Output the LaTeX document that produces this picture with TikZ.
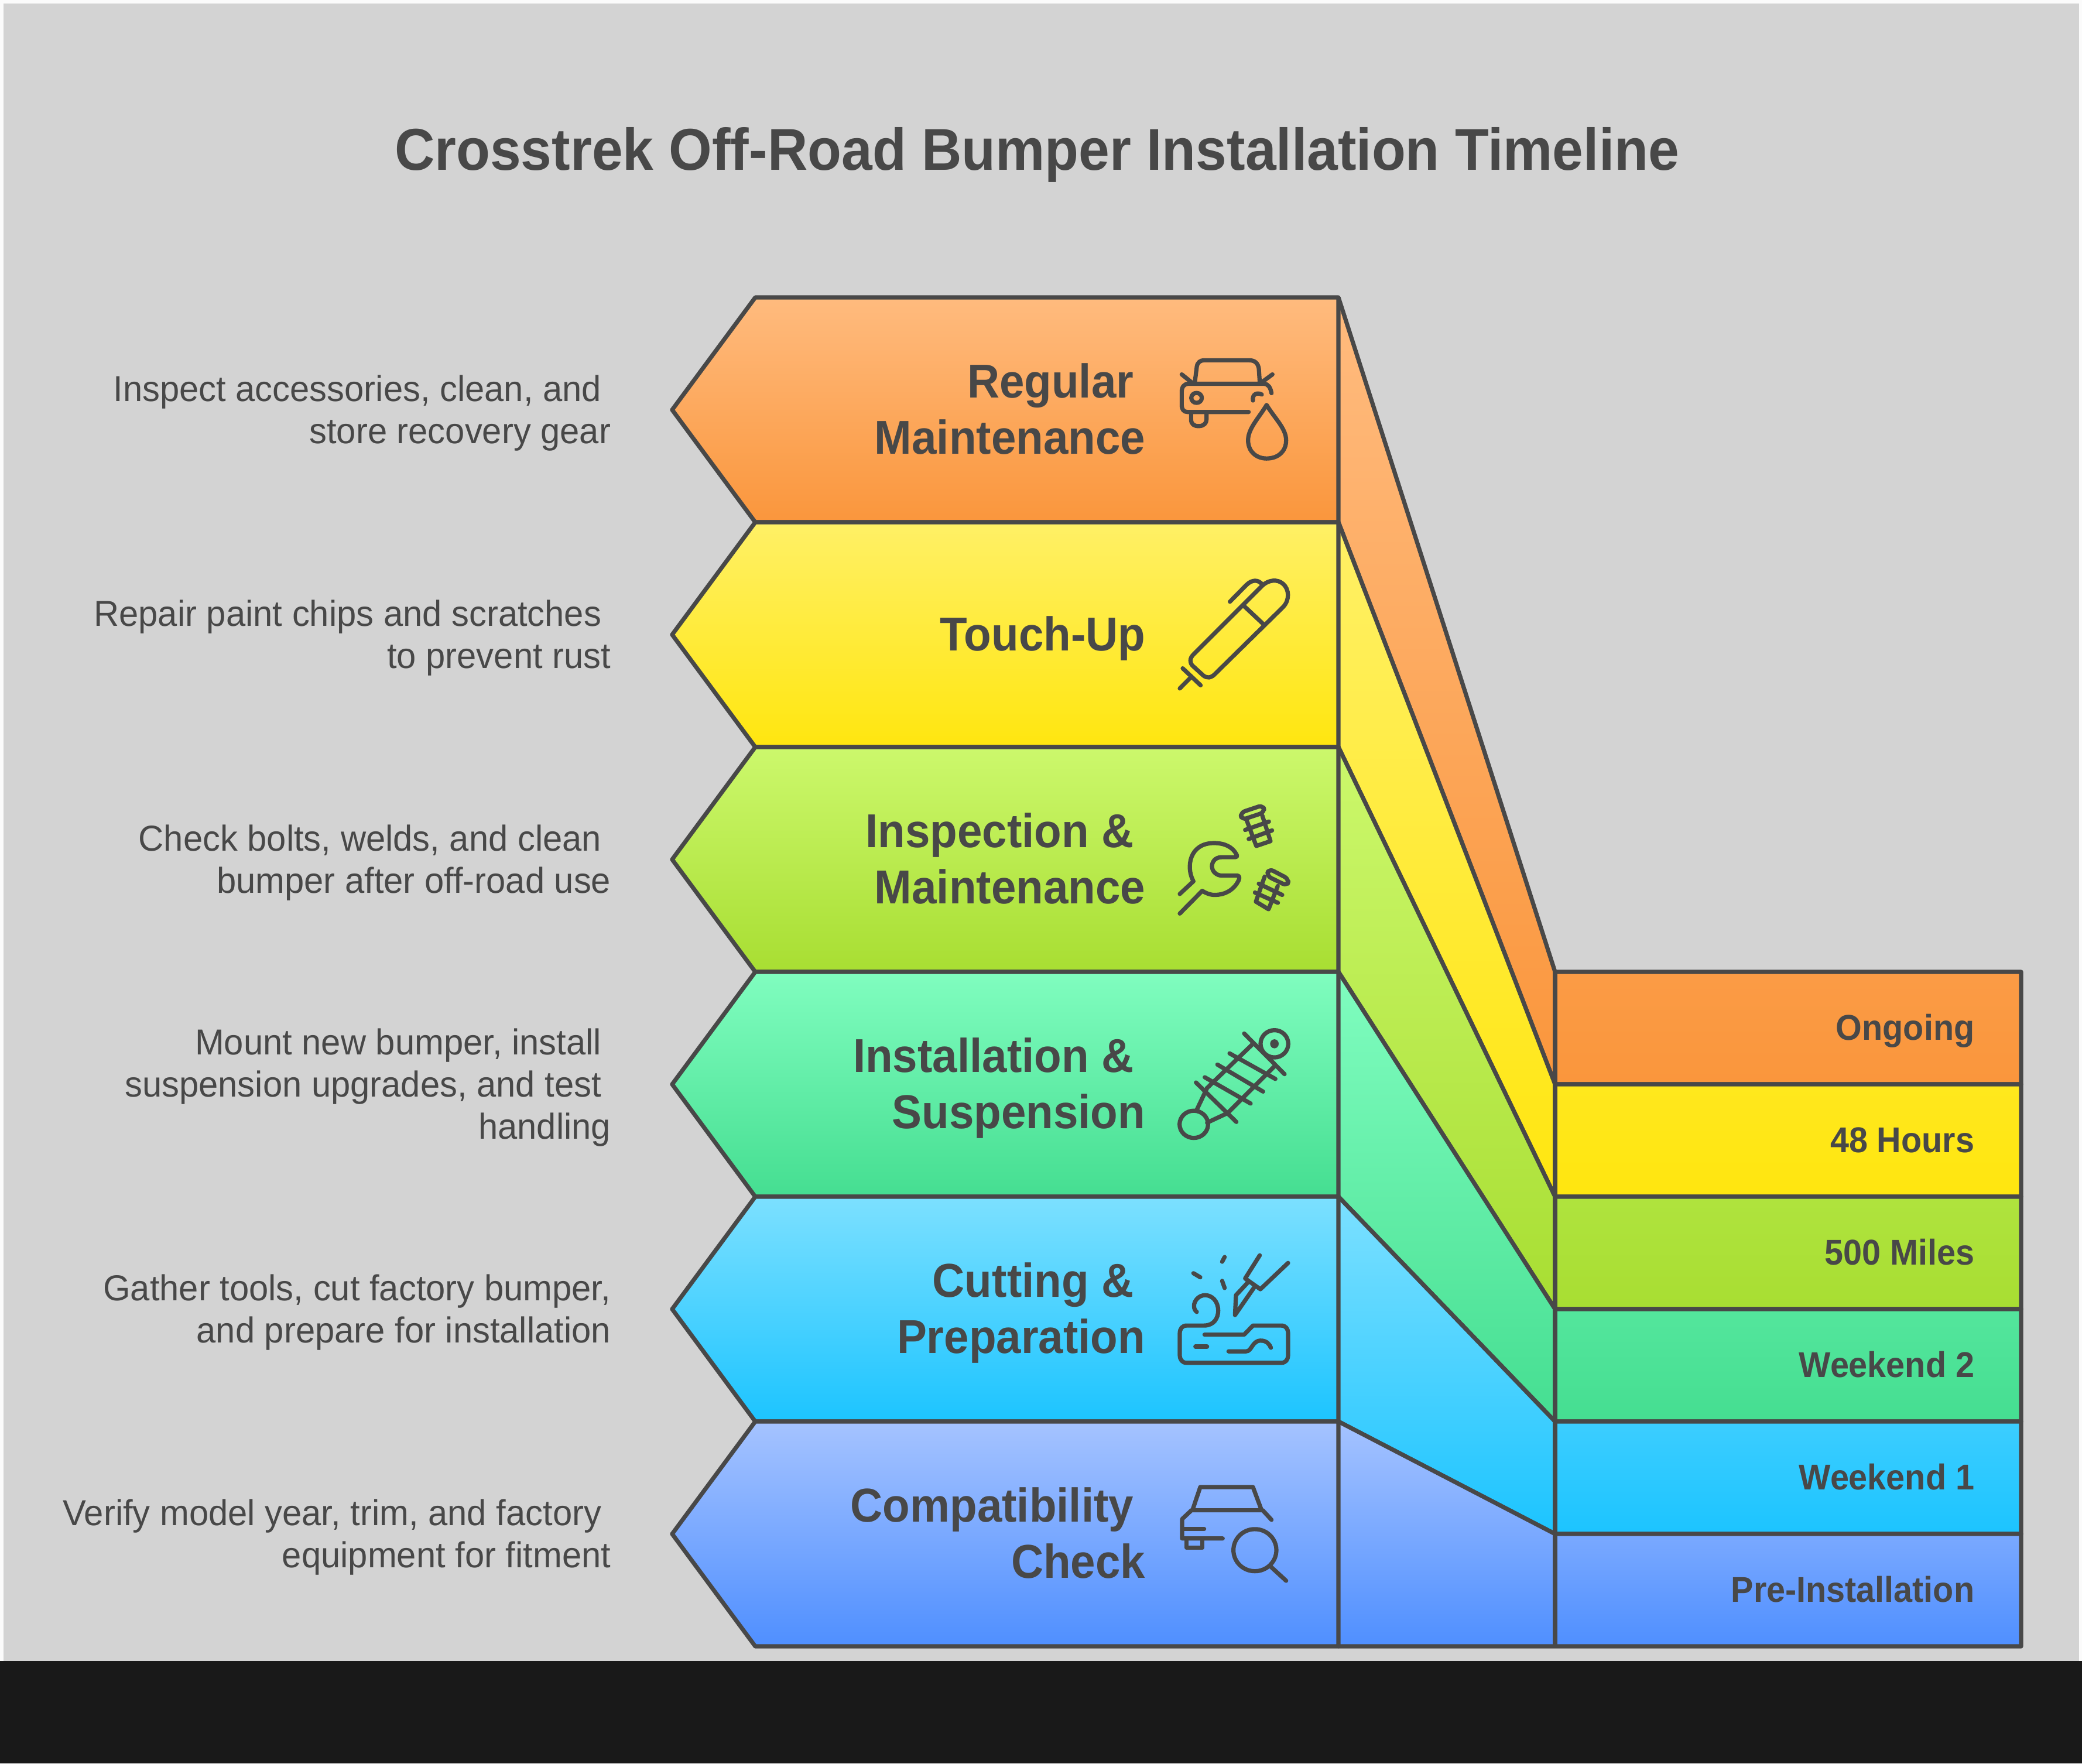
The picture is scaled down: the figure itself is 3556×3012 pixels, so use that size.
\documentclass[tikz,border=0pt]{standalone}
\usepackage{fontspec}
\setmainfont{Liberation Sans}[FakeStretch=0.97,BoldFeatures={FakeStretch=0.94}]
\usetikzlibrary{calc}
\definecolor{ink}{HTML}{484848}
\definecolor{pagebg}{HTML}{D3D3D3}
\definecolor{barbg}{HTML}{191919}
\definecolor{edgebg}{HTML}{FBFBFB}
\definecolor{orangeT}{HTML}{FFBB7E}\definecolor{orangeB}{HTML}{FA963C}
\definecolor{yellowT}{HTML}{FFF066}\definecolor{yellowB}{HTML}{FFE60F}
\definecolor{greenT}{HTML}{CCF86C}\definecolor{greenB}{HTML}{A8DE32}
\definecolor{tealT}{HTML}{80FDBF}\definecolor{tealB}{HTML}{45DE91}
\definecolor{cyanT}{HTML}{7CE0FF}\definecolor{cyanB}{HTML}{1CC4FF}
\definecolor{blueT}{HTML}{A5C3FF}\definecolor{blueB}{HTML}{4F8FFF}
\tikzset{
  outline/.style={draw=ink,line width=1.8pt,line join=round},
  icon/.style={draw=ink,line width=1.8pt,line cap=round,line join=round},
  titletext/.style={text=ink,font=\fontsize{25.2}{30}\selectfont\bfseries},
  stagetext/.style={text=ink,anchor=east,align=right,inner sep=0pt,font=\fontsize{20.3}{24}\selectfont\bfseries},
  desctext/.style={text=ink,anchor=east,align=right,inner sep=0pt,font=\fontsize{15.4}{18}\selectfont},
  celltext/.style={text=ink,anchor=east,inner sep=0pt,font=\fontsize{15.3}{18}\selectfont\bfseries},
}
\newcommand{\dline}[1]{\hbox{\strut #1\kern4pt}}
% #1 y top, #2 y bottom, #3 right top, #4 right bottom, #5 top colour, #6 bottom colour
\newcommand{\stageband}[6]{%
  \path[shade,top color=#5,bottom color=#6]
    (2286,#1) -- (2656,#3) -- (3452,#3) -- (3452,#4) -- (2656,#4) -- (2286,#2) -- cycle;
  \draw[outline] (2286,#1) -- (2656,#3) -- (3452,#3) -- (3452,#4) -- (2656,#4) -- (2286,#2);
  \draw[outline] (2656,#3) -- (2656,#4);
  \path[shade,top color=#5,bottom color=#6]
    (1148,{(#1+#2)/2}) -- (1290,#1) -- (2286,#1) -- (2286,#2) -- (1290,#2) -- cycle;
  \draw[outline] (1148,{(#1+#2)/2}) -- (1290,#1) -- (2286,#1) -- (2286,#2) -- (1290,#2) -- cycle;
}
\begin{document}
\begin{tikzpicture}[x=0.25pt,y=-0.25pt]
\useasboundingbox (0,0) rectangle (3556,3012);
\fill[edgebg] (0,0) rectangle (3556,3012);
\fill[pagebg] (6,6) rectangle (3551,2837);
\fill[barbg] (0,2837) rectangle (3556,3012);

\node[titletext] (title) at (1771,264) {Crosstrek Off-Road Bumper Installation Timeline};

\stageband{508}{892}{1660}{1852}{orangeT}{orangeB}
\stageband{892}{1276}{1852}{2044}{yellowT}{yellowB}
\stageband{1276}{1660}{2044}{2236}{greenT}{greenB}
\stageband{1660}{2044}{2236}{2428}{tealT}{tealB}
\stageband{2044}{2428}{2428}{2620}{cyanT}{cyanB}
\stageband{2428}{2812}{2620}{2812}{blueT}{blueB}

% stage titles
\node[stagetext] (s6) at (1957,708) {\strut Regular\hspace*{5pt}\\\strut Maintenance};
\node[stagetext] (s5) at (1957,1092) {\strut Touch-Up};
\node[stagetext] (s4) at (1957,1476) {\strut Inspection \&\hspace*{5pt}\\\strut Maintenance};
\node[stagetext] (s3) at (1957,1860) {\strut Installation \&\hspace*{5pt}\\\strut Suspension};
\node[stagetext] (s2) at (1957,2244) {\strut Cutting \&\hspace*{5pt}\\\strut Preparation};
\node[stagetext] (s1) at (1957,2628) {\strut Compatibility\hspace*{5pt}\\\strut Check};

% descriptions
\node[desctext] (d6) at (1044,707) {\dline{Inspect accessories, clean, and}\\\strut store recovery gear};
\node[desctext] (d5) at (1044,1091) {\dline{Repair paint chips and scratches}\\\strut to prevent rust};
\node[desctext] (d4) at (1044,1475) {\dline{Check bolts, welds, and clean}\\\strut bumper after off-road use};
\node[desctext] (d3) at (1044,1859) {\dline{Mount new bumper, install}\\\dline{suspension upgrades, and test}\\\strut handling};
\node[desctext] (d2) at (1044,2243) {\strut Gather tools, cut factory bumper,\\\strut and prepare for installation};
\node[desctext] (d1) at (1044,2627) {\dline{Verify model year, trim, and factory}\\\strut equipment for fitment};

% timeline cells
\node[celltext] (c6) at (3373,1762) {\strut Ongoing};
\node[celltext] (c5) at (3373,1954) {\strut 48 Hours};
\node[celltext] (c4) at (3373,2146) {\strut 500 Miles};
\node[celltext] (c3) at (3373,2338) {\strut Weekend 2};
\node[celltext] (c2) at (3373,2530) {\strut Weekend 1};
\node[celltext] (c1) at (3373,2722) {\strut Pre-Installation};

% icons: car and drop, pen
\begin{scope}[shift={(1950,560)},x=0.25pt/3,y=-0.25pt/2.24]
  \draw[icon] (272,210) -- (282,150) .. controls (285,132) and (300,124) .. (320,124) -- (550,124) .. controls (580,124) and (595,135) .. (600,155) -- (605,210);
  \draw[icon] (665,250) .. controls (660,230) and (650,214) .. (625,214) -- (240,214) .. controls (218,214) and (205,225) .. (205,245) -- (205,295) .. controls (205,312) and (215,322) .. (235,322) -- (548,322);
  \draw[icon] (205,178) -- (258,210);
  \draw[icon] (670,178) -- (612,210);
  \draw[icon] (281,268) circle [x radius=27,y radius=19];
  \draw[icon] (570,278) .. controls (565,255) and (590,245) .. (615,255);
  \draw[icon] (253,325) -- (253,350) .. controls (253,370) and (270,376) .. (292,376) .. controls (318,376) and (332,365) .. (332,350) -- (332,325);
  \draw[icon] (640,295) .. controls (600,345) and (545,385) .. (545,430) .. controls (545,475) and (590,500) .. (640,500) .. controls (695,500) and (740,475) .. (740,430) .. controls (740,385) and (680,345) .. (640,295) -- cycle;
  % pen
  \draw[icon] (620,985) -- (265,1250) .. controls (245,1265) and (245,1282) .. (262,1294) -- (315,1330) .. controls (335,1342) and (355,1340) .. (375,1325) -- (725,1068) .. controls (760,1040) and (755,1000) .. (725,980) .. controls (695,960) and (650,965) .. (620,985);
  \draw[icon] (452,1048) -- (535,985) .. controls (565,962) and (600,962) .. (620,985);
  \draw[icon] (525,1065) -- (625,1135);
  \draw[icon] (210,1303) -- (302,1368);
  \draw[icon] (195,1380) -- (255,1335);
\end{scope}

% icons: wrench and bolts, shock absorber
\begin{scope}[shift={(1950,1340)},x=0.25pt/3,y=-0.25pt/2.45]
  \draw[icon] (195,458) -- (265,405) .. controls (225,345) and (245,245) .. (370,245) .. controls (420,245) and (465,258) .. (487,295) .. controls (490,302) and (485,304) .. (478,304) -- (410,304) .. controls (375,304) and (360,325) .. (360,342) .. controls (360,365) and (385,381) .. (410,381) -- (490,381) .. controls (502,381) and (502,392) .. (496,402) .. controls (470,445) and (420,462) .. (375,462) .. controls (350,462) and (330,455) .. (310,445) -- (195,540);
  % bolt 1
  \draw[icon,rounded corners=2pt] (505,118) -- (622,86) -- (630,116) -- (513,148) -- cycle;
  \draw[icon] (538,150) -- (587,257) -- (660,237) -- (618,130);
  \draw[icon] (530,190) -- (652,155);
  \draw[icon] (548,228) -- (668,192);
  % bolt 2
  \draw[icon,rounded corners=2pt] (652,352) -- (755,396) -- (745,424) -- (640,382) -- cycle;
  \draw[icon] (630,385) -- (585,490) -- (650,522) -- (697,425);
  \draw[icon] (600,415) -- (720,462);
  \draw[icon] (580,452) -- (698,495);
  % shock
  \draw[icon] (680,1085) circle [x radius=71,y radius=57];
  \fill[ink] (680,1085) circle [x radius=22,y radius=19];
  \draw[icon] (267,1422) circle [x radius=73,y radius=57];
  \draw[icon] (570,1085) -- (335,1270) -- (280,1365);
  \draw[icon] (685,1175) -- (440,1375) -- (335,1415);
  \draw[icon] (525,1042) -- (732,1212);
  \draw[icon] (278,1247) -- (485,1412);
  \draw[icon] (450,1125) -- (685,1232);
  \draw[icon] (388,1172) -- (622,1285);
  \draw[icon] (323,1225) -- (558,1335);
\end{scope}

% icons: cutting, car and magnifier
\begin{scope}[shift={(1950,2100)},x=0.25pt/3,y=-0.25pt/2.45]
  \draw[icon] (322,440) -- (525,440) -- (570,402) -- (715,402) .. controls (738,402) and (750,415) .. (750,435) -- (750,525) .. controls (750,545) and (738,558) .. (715,558) -- (230,558) .. controls (208,558) and (195,545) .. (195,525) -- (195,435) .. controls (195,415) and (208,402) .. (230,402) -- (320,402) .. controls (370,402) and (392,370) .. (392,340) .. controls (392,300) and (360,275) .. (325,275) .. controls (290,275) and (268,300) .. (268,320) .. controls (268,332) and (274,340) .. (282,345);
  \draw[icon] (275,490) -- (335,490);
  \draw[icon] (445,510) -- (535,510) .. controls (565,510) and (565,465) .. (610,465) .. controls (640,465) and (655,480) .. (662,495);
  \draw[icon] (605,108) -- (530,205) -- (608,250) -- (750,140);
  \draw[icon] (548,218) -- (483,275) -- (478,358) -- (580,238);
  \draw[icon] (412,135) -- (425,115);
  \draw[icon] (265,183) -- (300,200);
  \draw[icon] (412,215) -- (425,245);
  % car
  \draw[icon] (262,1170) -- (300,1078) -- (570,1078) -- (612,1170);
  \draw[icon] (665,1215) -- (620,1175) -- (255,1175) -- (207,1212) -- (207,1293) -- (415,1293);
  \draw[icon] (210,1253) -- (320,1253);
  \draw[icon] (230,1295) -- (230,1332) -- (310,1332) -- (310,1295);
  \draw[icon] (580,1342) circle [x radius=110,y radius=88];
  \draw[icon] (660,1410) -- (740,1470);
\end{scope}
\end{tikzpicture}
\end{document}
